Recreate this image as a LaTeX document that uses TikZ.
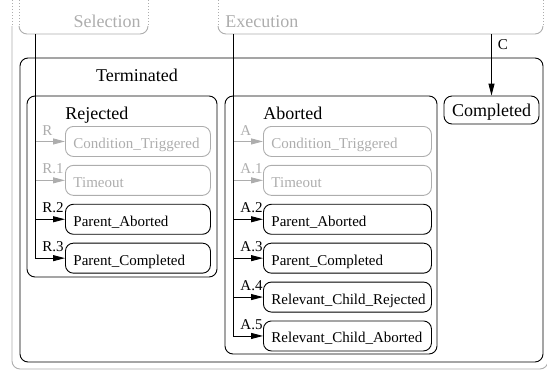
\documentclass[tikz,border=0pt]{standalone}
\usepackage{fontspec}
\setmainfont{Liberation Serif}
\usetikzlibrary{arrows.meta,positioning}
\definecolor{faded}{gray}{0.68}

\begin{document}
\begin{tikzpicture}[x=1pt, y=-1pt, >={Triangle[length=12pt,width=6pt]}, line width=0.9pt,
  leaf/.style={draw, rounded corners=8pt, minimum height=30pt, align=left,
    inner xsep=8pt, inner ysep=0pt, text height=14pt, text depth=0pt,
    font=\fontsize{15}{18}\selectfont},
  rleaf/.style={leaf, text width=129pt},
  aleaf/.style={leaf, text width=152pt},
  off/.style={draw=faded, text=faded},
  hdr/.style={font=\fontsize{18}{21}\selectfont, inner sep=0pt},
  tag/.style={font=\fontsize{15}{18}\selectfont, inner xsep=7pt, inner ysep=6pt, anchor=south west},
  cut/.style={faded, dash pattern=on 1pt off 2pt}]
  \useasboundingbox (0,0) rectangle (547,373);

  % --- outer frame (cut at the top) ---
  \draw[cut] (12,0) -- (12,26);
  \draw[faded, rounded corners=8pt] (12,26) -- (12,369) -- (548,369) -- (548,26);

  % --- Selection / Execution ---
  \draw[cut] (19,0) -- (19,26);
  \draw[cut] (148,0) -- (148,26);
  \draw[faded, rounded corners=8pt] (19,26) -- (19,34) -- (148,34) -- (148,26);
  \node[hdr, faded, anchor=base east] (selt) at (141,27) {Selection};
  \draw[cut] (218,0) -- (218,26);
  \draw[cut] (543,0) -- (543,26);
  \draw[faded, rounded corners=8pt] (218,26) -- (218,34) -- (543,34) -- (543,26);
  \node[hdr, faded, anchor=base west] (exet) at (225,27) {Execution};
  \coordinate (selb) at (35,34);
  \coordinate (exeb) at (233,34);

  % --- Terminated ---
  \draw[rounded corners=8pt] (20,58) rectangle (543,362);
  \node[hdr, anchor=base] (term) at (137,81) {Terminated};

  % Rejected
  \draw[rounded corners=8pt] (27,96) rectangle (217,277);
  \node[hdr, anchor=base west] (rejt) at (65,119) {Rejected};
  \node[rleaf, off, anchor=north west] (rct) at (65,126) {Condition\_Triggered};
  \node[rleaf, off, below=8pt of rct] (rto) {Timeout};
  \node[rleaf, below=8pt of rto] (rpa) {Parent\_Aborted};
  \node[rleaf, below=8pt of rpa] (rpc) {Parent\_Completed};

  % Aborted
  \draw[rounded corners=8pt] (225,96) rectangle (437,354);
  \node[hdr, anchor=base west] (abot) at (263,119) {Aborted};
  \node[aleaf, off, anchor=north west] (act) at (263,126) {Condition\_Triggered};
  \node[aleaf, off, below=8pt of act] (ato) {Timeout};
  \node[aleaf, below=8pt of ato] (apa) {Parent\_Aborted};
  \node[aleaf, below=8pt of apa] (apc) {Parent\_Completed};
  \node[aleaf, below=8pt of apc] (acr) {Relevant\_Child\_Rejected};
  \node[aleaf, below=8pt of acr] (aca) {Relevant\_Child\_Aborted};

  % Completed
  \node[draw, rounded corners=8pt, minimum width=95pt, minimum height=28pt,
    inner ysep=0pt, text height=13pt, text depth=0pt,
    font=\fontsize{18}{21}\selectfont] (comp) at (491.5,110) {Completed};

  % --- transitions ---
  \draw[->, faded] (selb) |- node[tag, pos=0.5] {R} (rct.west);
  \draw[->, faded] (selb) |- node[tag, pos=0.5] {R.1} (rto.west);
  \draw[->] (selb) |- node[tag, pos=0.5] {R.2} (rpa.west);
  \draw[->] (selb) |- node[tag, pos=0.5] {R.3} (rpc.west);

  \draw[->, faded] (exeb) |- node[tag, pos=0.5] {A} (act.west);
  \draw[->, faded] (exeb) |- node[tag, pos=0.5] {A.1} (ato.west);
  \draw[->] (exeb) |- node[tag, pos=0.5] {A.2} (apa.west);
  \draw[->] (exeb) |- node[tag, pos=0.5] {A.3} (apc.west);
  \draw[->] (exeb) |- node[tag, pos=0.5] {A.4} (acr.west);
  \draw[->] (exeb) |- node[tag, pos=0.5] {A.5} (aca.west);

  \draw[->] (comp.north |- exeb) -- node[pos=0.18, right, inner sep=6pt,
    font=\fontsize{15}{18}\selectfont] {C} (comp.north);
\end{tikzpicture}
\end{document}
